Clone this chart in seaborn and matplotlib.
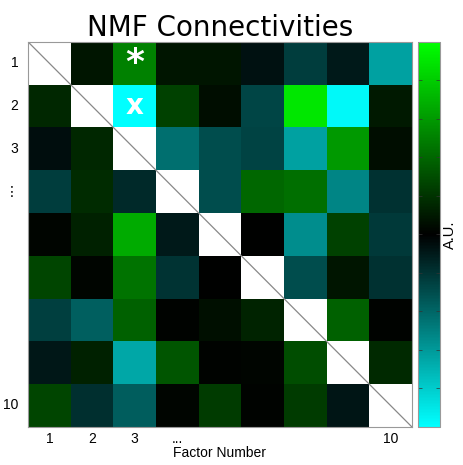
import numpy as np
import pandas as pd
import matplotlib
matplotlib.use("Agg")
import matplotlib.pyplot as plt
import seaborn as sns
from matplotlib.colors import LinearSegmentedColormap

# connectivity values (A.U.), positive = green, negative = cyan, diagonal blank
row_1 = [np.nan, 0.08, 0.50, 0.08, 0.08, -0.07, -0.24, -0.10, -0.63]
row_2 = [0.15, np.nan, -1.00, 0.25, 0.05, -0.27, 0.90, -0.97, 0.10]
row_3 = [-0.05, 0.15, np.nan, -0.43, -0.30, -0.26, -0.63, 0.60, 0.05]
row_4 = [-0.24, 0.17, -0.16, np.nan, -0.30, 0.40, 0.43, -0.52, -0.19]
row_5 = [0.02, 0.13, 0.67, -0.10, np.nan, 0.00, -0.55, 0.25, -0.22]
row_6 = [0.27, 0.02, 0.45, -0.20, 0.00, np.nan, -0.30, 0.08, -0.19]
row_7 = [-0.25, -0.37, 0.38, 0.01, 0.06, 0.14, np.nan, 0.38, 0.01]
row_8 = [-0.09, 0.13, -0.65, 0.33, 0.01, 0.02, 0.30, np.nan, 0.16]
row_9 = [0.27, -0.18, -0.36, 0.02, 0.23, 0.01, 0.23, -0.08, np.nan]

tick_labels = ["1", "2", "3", "...", "", "", "", "", "10"]
ytick_labels = ["1", "2", "3", "\u22ee", "", "", "", "", "10"]

# significance markers: (row, col, symbol)
markers = [(0, 2, "*"), (1, 2, "x")]

data = pd.DataFrame([row_1, row_2, row_3, row_4, row_5, row_6, row_7, row_8, row_9])
n = len(data)

cmap = LinearSegmentedColormap.from_list("cyan_black_green", ["#00ffff", "#000000", "#00ff00"])
fam = ["Liberation Sans", "DejaVu Sans"]

fig = plt.figure(figsize=(4.63, 4.65), dpi=100)
ax = fig.add_axes([0.0605, 0.082, 0.829, 0.828])
cax = fig.add_axes([0.903, 0.082, 0.047, 0.828])

sns.heatmap(data, ax=ax, cbar_ax=cax, cmap=cmap, vmin=-1, vmax=1,
            mask=data.isna(), square=False, linewidths=0,
            xticklabels=tick_labels, yticklabels=ytick_labels)
ax.set_facecolor("white")

# diagonal line through the blank cells
ax.plot([0, n], [0, n], color="#888888", lw=0.9)

for r, c, s in markers:
    ax.text(c + 0.5, r + 0.5, s, ha="center", va="center", color="white",
            fontsize=26 if s == "*" else 20, fontweight="bold",
            family="DejaVu Sans")

ax.tick_params(length=0, labelsize=10)
ax.tick_params(axis="x", pad=4)
ax.tick_params(axis="y", pad=7)
plt.setp(ax.get_yticklabels(), rotation=0, family=fam)
plt.setp(ax.get_xticklabels(), rotation=0, family=fam)
ax.set_xlabel("Factor Number", fontsize=10, family=fam, labelpad=0)
ax.set_ylabel("")
ax.set_title("NMF Connectivities", fontsize=20, pad=4)
for sp in ax.spines.values():
    sp.set_visible(True)
    sp.set_color("#999999")
    sp.set_linewidth(0.8)

cbar = ax.collections[0].colorbar
cbar.set_ticks(np.linspace(-1, 1, 11))
cbar.ax.tick_params(length=3, width=0.5, color="#333333", labelright=False,
                    left=True, right=True, direction="in")
cbar.outline.set_edgecolor("#999999")
cbar.outline.set_linewidth(0.8)
cbar.set_label("A.U.", fontsize=10.5, family=fam, labelpad=2)

fig.savefig("out.png", dpi=100)
